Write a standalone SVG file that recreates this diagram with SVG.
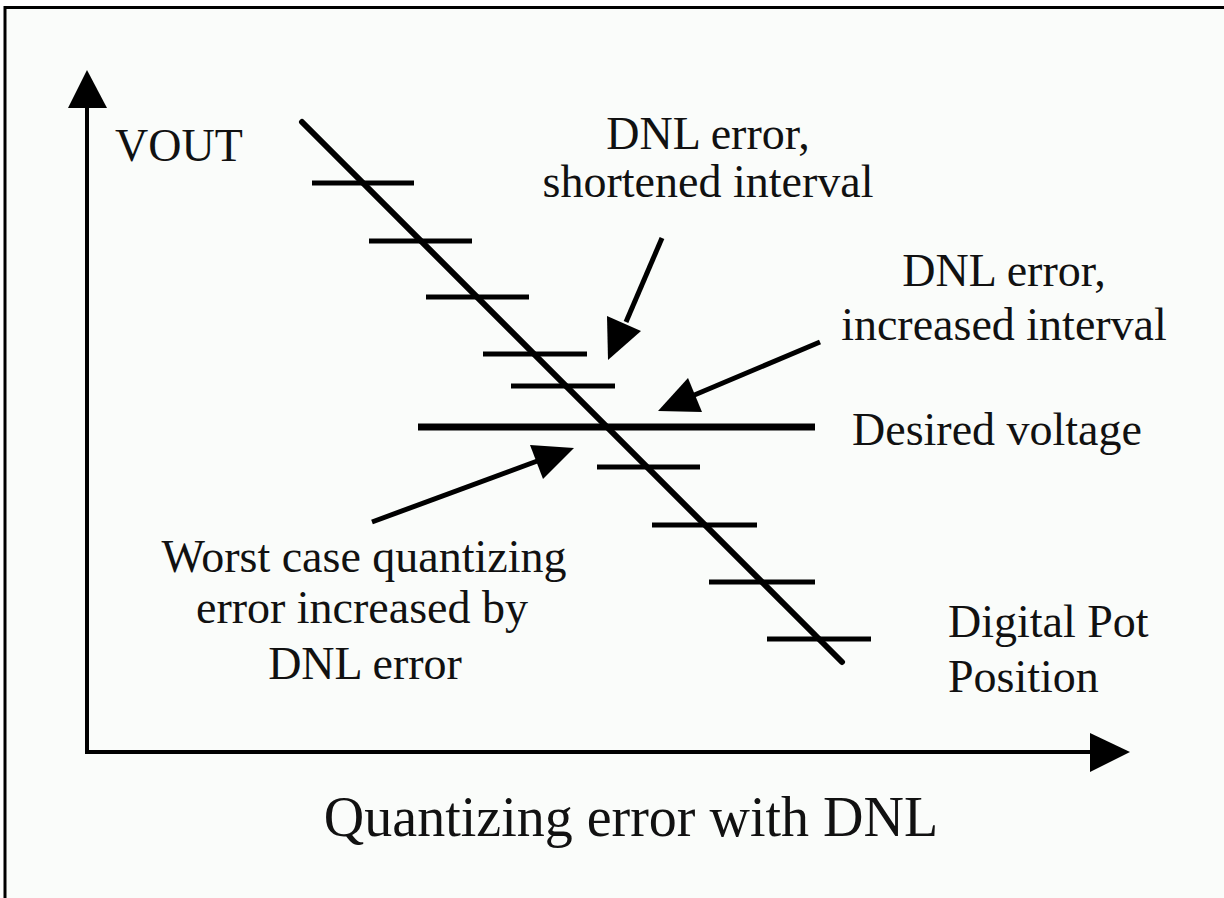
<svg xmlns="http://www.w3.org/2000/svg" width="1224" height="898" viewBox="0 0 1224 898">
  <defs>
    <style>
      .lbl { font-family: "Liberation Serif", "Times New Roman", serif; font-size: 46px; fill: #111; }
      .title { font-family: "Liberation Serif", "Times New Roman", serif; font-size: 56px; fill: #111; }
      .axis { stroke: #000; stroke-width: 4; fill: none; }
      .tick { stroke: #000; stroke-width: 5; fill: none; }
      .ptr { stroke: #000; stroke-width: 5; fill: none; }
      .head { fill: #000; stroke: none; }
    </style>
  </defs>
  <rect x="0" y="0" width="1224" height="898" fill="#ffffff"/>
  <rect x="5" y="7" width="1219" height="891" fill="#fafcfa"/>
  <g id="frame">
    <line x1="5" y1="7.5" x2="1224" y2="7.5" stroke="#000" stroke-width="3"/>
    <line x1="5" y1="6" x2="5" y2="898" stroke="#000" stroke-width="3"/>
  </g>
  <g id="axes">
    <polyline class="axis" points="87,100 87,752 1095,752"/>
    <polygon class="head" points="87,70 68,108 107,108"/>
    <polygon class="head" points="1130,752 1090,733 1090,772"/>
  </g>
  <g id="staircase">
    <line x1="302" y1="122" x2="842" y2="662" stroke="#000" stroke-width="6" stroke-linecap="round"/>
    <line class="tick" x1="312" y1="183" x2="414" y2="183"/>
    <line class="tick" x1="369" y1="241" x2="472" y2="241"/>
    <line class="tick" x1="426" y1="297" x2="529" y2="297"/>
    <line class="tick" x1="483" y1="354" x2="587" y2="354"/>
    <line class="tick" x1="511" y1="386" x2="615" y2="386"/>
    <line class="tick" x1="597" y1="467" x2="700" y2="467"/>
    <line class="tick" x1="652" y1="525" x2="757" y2="525"/>
    <line class="tick" x1="709" y1="582" x2="815" y2="582"/>
    <line class="tick" x1="767" y1="639" x2="871" y2="639"/>
  </g>
  <g id="desired-line">
    <line x1="418" y1="427" x2="815" y2="427" stroke="#000" stroke-width="7"/>
  </g>
  <g id="connectors">
    <line class="ptr" x1="662" y1="238" x2="626" y2="322"/>
    <polygon class="head" points="608,360 607,316 641,331"/>
    <line class="ptr" x1="820" y1="342" x2="692" y2="396"/>
    <polygon class="head" points="658,411 702,412 688,378"/>
    <line class="ptr" x1="372" y1="522" x2="540" y2="460"/>
    <polygon class="head" points="574,448 543,479 530,445"/>
  </g>
  <g id="label-vout">
    <text class="lbl" x="115" y="161">VOUT</text>
  </g>
  <g id="label-shortened">
    <text class="lbl" x="708" y="149" text-anchor="middle">DNL error,</text>
    <text class="lbl" x="708" y="197" text-anchor="middle">shortened interval</text>
  </g>
  <g id="label-increased">
    <text class="lbl" x="1004" y="286" text-anchor="middle">DNL error,</text>
    <text class="lbl" x="1004" y="340" text-anchor="middle">increased interval</text>
  </g>
  <g id="label-desired">
    <text class="lbl" x="852" y="445">Desired voltage</text>
  </g>
  <g id="label-worst">
    <text class="lbl" x="364" y="572" text-anchor="middle">Worst case quantizing</text>
    <text class="lbl" x="362" y="623" text-anchor="middle">error increased by</text>
    <text class="lbl" x="365" y="679" text-anchor="middle">DNL error</text>
  </g>
  <g id="label-position">
    <text class="lbl" x="948" y="637">Digital Pot</text>
    <text class="lbl" x="948" y="692">Position</text>
  </g>
  <g id="title">
    <text class="title" x="631" y="836" text-anchor="middle">Quantizing error with DNL</text>
  </g>
</svg>
